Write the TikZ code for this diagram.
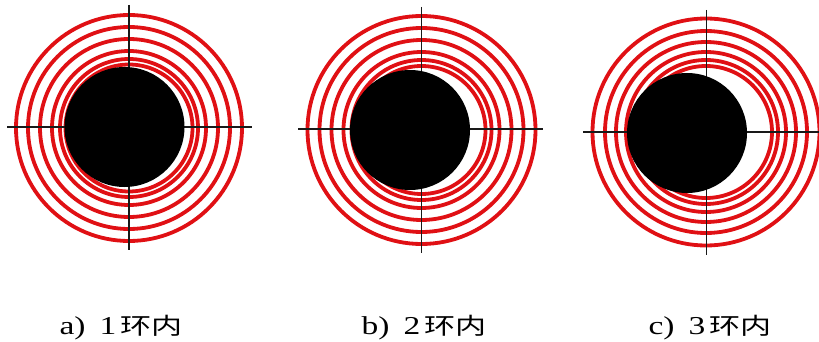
\documentclass[tikz,border=0pt]{standalone}
\usepackage{fontspec}
\newfontfamily\cjk[FakeStretch=1.35]{Noto Sans CJK SC}
\newfontfamily\lat[FakeStretch=1.3,Scale=1.12]{Liberation Serif}
\definecolor{ringred}{RGB}{224,16,20}
\tikzset{
  ring/.style={draw=ringred, line width=3.8pt},
  cross/.style={draw=black!90, line width=1.8pt},
  bull/.style={fill=black},
  caption/.style={font=\fontsize{23}{26}\selectfont, inner sep=0pt, anchor=center}
}
\newcommand\capt[2]{{\lat #1)\hspace{0.55em}#2\hspace{0.15em}}{\cjk 环内}}
\begin{document}
\begin{tikzpicture}[x=1pt,y=-1pt]
\useasboundingbox (0,0) rectangle (819,342);
% target a
\foreach \r in {113,101,89,77,69,63.5} \draw[ring] (129,128) circle (\r);
\draw[cross] (7,127) -- (252,127);
\draw[cross] (129,5) -- (129,250);
\fill[bull] (124.5,127) circle (60);
% target b
\foreach \r in {114,102,90,78,70,64} \draw[ring] (421.5,130) circle (\r);
\draw[cross] (298,129) -- (543,129);
\draw[cross] (421.5,7) -- (421.5,253);
\fill[bull] (410,130) circle (60);
% target c
\foreach \r in {113.5,101,90,80,72,66} \draw[ring] (706,132) circle (\r);
\draw[cross] (583,132) -- (819,132);
\draw[cross] (706.5,10) -- (706.5,255);
\fill[bull] (687,133) circle (60);
% captions
\node[caption] (la) at (121,328) {\capt{a}{1}};
\node[caption] (lb) at (424,328) {\capt{b}{2}};
\node[caption] (lc) at (710,328) {\capt{c}{3}};
\end{tikzpicture}
\end{document}
